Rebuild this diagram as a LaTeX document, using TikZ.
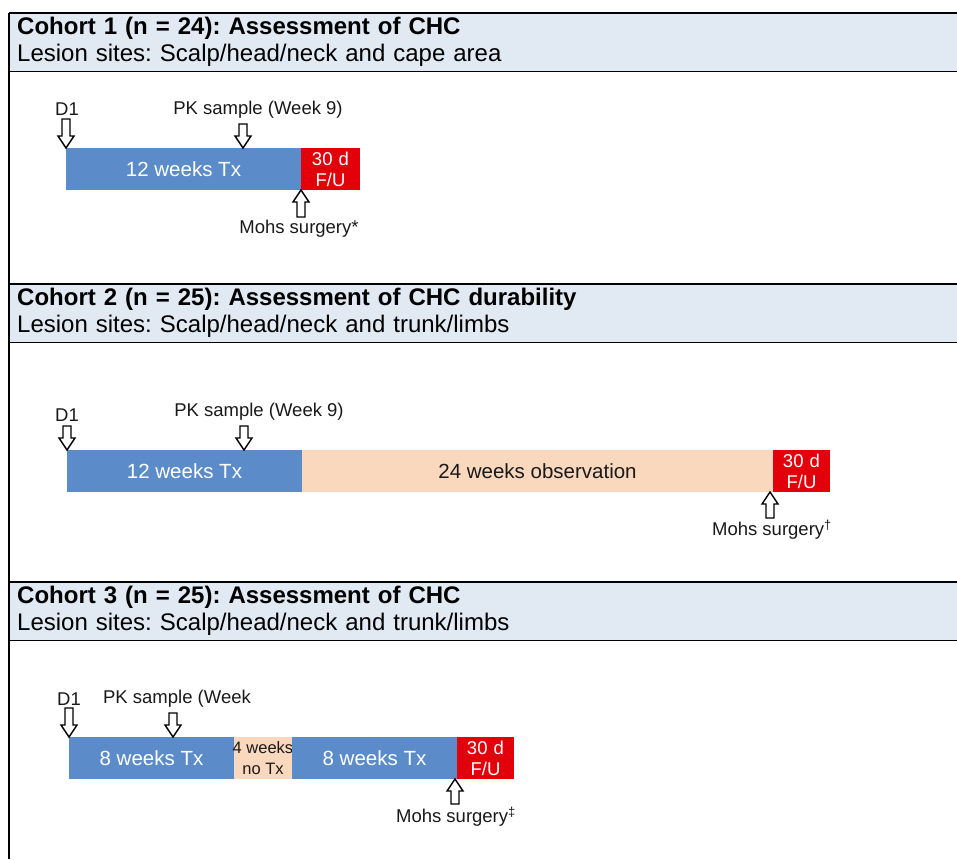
\documentclass[tikz,border=0pt]{standalone}
\usepackage{fontspec}
\setmainfont{Liberation Sans}
\usetikzlibrary{positioning}
\frenchspacing

\definecolor{txblue}{RGB}{91,140,201}
\definecolor{obspeach}{RGB}{250,216,190}
\definecolor{fured}{RGB}{226,0,10}
\definecolor{headfill}{RGB}{225,233,243}

\begin{document}
\begin{tikzpicture}[
    x=1pt, y=-1pt,
    head/.style={rectangle, fill=headfill, anchor=north west, text width=932pt, align=left, inner xsep=8pt, inner ysep=0pt, minimum height=58pt, font=\fontsize{24}{27}\selectfont},
    rule/.style={line width=1.4pt},
    bar/.style={rectangle, inner sep=0pt, outer sep=0pt, minimum height=42pt, align=center, font=\fontsize{20.5}{24}\selectfont},
    tx/.style={bar, fill=txblue, text=white, minimum width=#1},
    obs/.style={bar, fill=obspeach, text=black!90, minimum width=#1},
    fu/.style={bar, fill=fured, text=white, text width=#1, font=\fontsize{18.5}{21}\selectfont},
    lbl/.style={inner sep=0pt, text=black!90, font=\fontsize{18.5}{21}\selectfont},
    pics/pointer/.style={code={
        \draw[rule, fill=white] (0,0) -- (-8,-12) -- (-4,-12) -- (-4,-#1) -- (4,-#1) -- (4,-12) -- (8,-12) -- cycle;
    }}
]
    \useasboundingbox (0,0) rectangle (957,859);

    % cohort 1
    \node[head] (h1) at (9,13) {\textbf{Cohort 1 (n = 24): Assessment of CHC}\\Lesion sites: Scalp/head/neck and cape area};
    \node[tx=235pt, anchor=north west] (tx1) at (66,148) {12 weeks Tx};
    \node[fu=59pt, right=0pt of tx1] (fu1) {30 d\\F/U};
    \node[lbl] (d1a) at (67,109) {D1};
    \node[lbl] (pk1) at (258,110) {PK sample (Week 9)};
    \node[lbl] (mohs1) at (299,229) {Mohs surgery*};
    \pic at (tx1.north west) {pointer=29};
    \pic at ([xshift=177pt]tx1.north west) {pointer=24};
    \pic[rotate=180] at (tx1.south east) {pointer=27};

    % cohort 2
    \node[head] (h2) at (9,284) {\textbf{Cohort 2 (n = 25): Assessment of CHC durability}\\Lesion sites: Scalp/head/neck and trunk/limbs};
    \node[tx=235pt, anchor=north west] (tx2) at (67,450) {12 weeks Tx};
    \node[obs=471pt, right=0pt of tx2] (obs2) {24 weeks observation};
    \node[fu=57pt, right=0pt of obs2] (fu2) {30 d\\F/U};
    \node[lbl] (d1b) at (67,415) {D1};
    \node[lbl] (pk2) at (259,412) {PK sample (Week 9)};
    \node[lbl] (mohs2) at (772,530) {Mohs surgery\textsuperscript{†}};
    \pic at (tx2.north west) {pointer=24};
    \pic at ([xshift=177pt]tx2.north west) {pointer=24};
    \pic[rotate=180] at ([xshift=-3pt]obs2.south east) {pointer=26};

    % cohort 3
    \node[head] (h3) at (9,582) {\textbf{Cohort 3 (n = 25): Assessment of CHC}\\Lesion sites: Scalp/head/neck and trunk/limbs};
    \node[tx=165pt, anchor=north west] (tx3a) at (69,737) {8 weeks Tx};
    \node[obs=58pt, font=\fontsize{16.5}{21}\selectfont, right=0pt of tx3a] (off3) {\makebox[0pt]{4 weeks}\\no Tx};
    \node[tx=165pt, right=0pt of off3] (tx3b) {8 weeks Tx};
    \node[fu=57pt, right=0pt of tx3b] (fu3) {30 d\\F/U};
    \node[lbl] (d1c) at (69,699) {D1};
    \node[lbl] (pk3) at (177,699) {PK sample (Week};
    \node[lbl] (mohs3) at (456,817) {Mohs surgery\textsuperscript{‡}};
    \pic at (tx3a.north west) {pointer=29};
    \pic at ([xshift=104pt]tx3a.north west) {pointer=24};
    \pic[rotate=180] at ([xshift=-2pt]tx3b.south east) {pointer=25};

    % table rules
    \coordinate (bot) at (9,859);
    \foreach \h in {h1,h2,h3} {
        \draw[rule] (\h.north west) -- (\h.north east);
        \draw[rule] (\h.south west) -- (\h.south east);
    }
    \draw[rule] (h1.north west) -- (bot);
\end{tikzpicture}
\end{document}
